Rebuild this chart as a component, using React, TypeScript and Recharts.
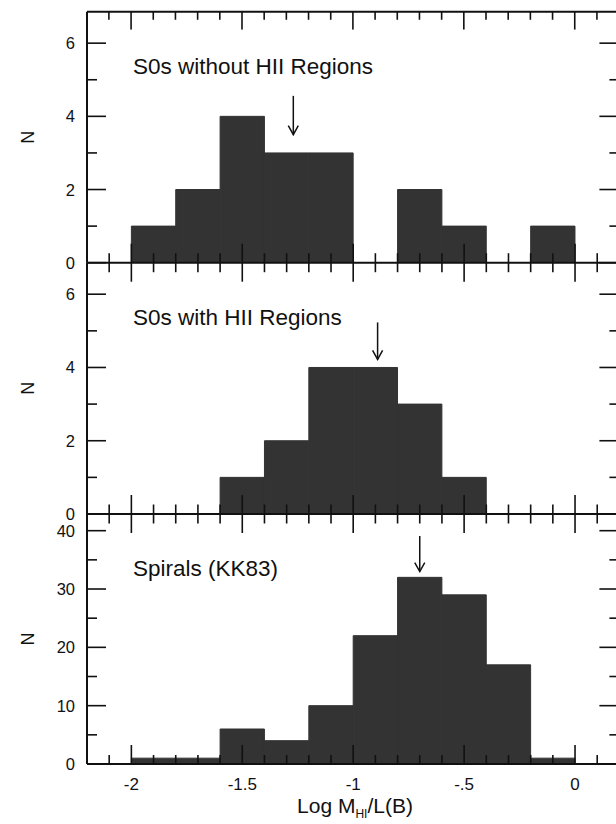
import React from 'react';
import { ComposedChart, Bar, XAxis, YAxis, ReferenceLine, Customized } from 'recharts';

// ---------- data ----------
const binCenters = [-2.1, -1.9, -1.7, -1.5, -1.3, -1.1, -0.9, -0.7, -0.5, -0.3, -0.1, 0.1];
const s0WithoutHII = [0, 1, 2, 4, 3, 3, 0, 2, 1, 0, 1, 0];
const s0WithHII = [0, 0, 0, 1, 2, 4, 4, 3, 1, 0, 0, 0];
const spiralsKK83 = [0, 1, 1, 6, 4, 10, 22, 32, 29, 17, 1, 0];

const xTicks = [-2.1, -2, -1.9, -1.8, -1.7, -1.6, -1.5, -1.4, -1.3, -1.2, -1.1, -1, -0.9, -0.8, -0.7, -0.6, -0.5, -0.4, -0.3, -0.2, -0.1, 0, 0.1];
const xTickLabels: Record<string, string> = { '-2': '-2', '-1.5': '-1.5', '-1': '-1', '-0.5': '-.5', '0': '0' };
const nTicksSmall = [0, 1, 2, 3, 4, 5, 6];
const nTicksLarge = [0, 5, 10, 15, 20, 25, 30, 35, 40];
const panelTitles = ['S0s without HII Regions', 'S0s with HII Regions', 'Spirals (KK83)'];
const meanArrowX = [-1.27, -0.89, -0.7];
const meanArrowFrom = [4.56, 5.23, 39.1];
const meanArrowTo = [3.5, 4.22, 33.0];

// ---------- style / layout ----------
const FONT = '"Liberation Sans", Arial, Helvetica, sans-serif';
const INK = '#111';
const BAR = '#333333';
const CHART_W = 640;
const PLOT_L = 87;
const PLOT_R_GAP = 20.6;
const AX = 1; // thickness reserved by each axis
const X_DOMAIN: [number, number] = [-2.2, 0.2];
const BIN_W = 0.2;
const N_X = 28;
const FRAME_TOP = 11.7;
const TOP_MAJOR_LEN = 18;
const TOP_MINOR_LEN = 8;

const isMultiple = (v: number, step: number) => {
  const r = v / step;
  return Math.abs(r - Math.round(r)) < 1e-6;
};

const makeBottomTick = (mode: 'cross' | 'labelled') => (props: any) => {
  const { x, y, payload } = props;
  const major = isMultiple(payload.value, 0.5);
  const key = String(Math.round(payload.value * 10) / 10);
  const label = xTickLabels[key];
  const yy = Number(y);
  const y1 = yy - (major ? 19 : mode === 'cross' ? 9.5 : 9);
  const y2 = mode === 'cross' ? yy + (major ? 19 : 9.5) : yy;
  return (
    <g>
      <line x1={x} x2={x} y1={y1} y2={y2} stroke={INK} strokeWidth={1.6} />
      {mode === 'labelled' && major && label !== undefined && (
        <text x={x} y={yy + 26} textAnchor="middle" fontSize={17} fill={INK} fontFamily={FONT}>
          {label}
        </text>
      )}
    </g>
  );
};

const makeLeftTick = (majorStep: number) => (props: any) => {
  const { x, y, payload } = props;
  const v = payload.value;
  const major = isMultiple(v, majorStep);
  return (
    <g>
      <line x1={x} x2={Number(x) + (major ? 19 : 10)} y1={y} y2={y} stroke={INK} strokeWidth={1.6} />
      {major && (
        <text x={Number(x) - 12} y={y} textAnchor="end" dominantBaseline="central" fontSize={16.5} fill={INK} fontFamily={FONT}>
          {v}
        </text>
      )}
    </g>
  );
};

const makeRightTick = (majorStep: number) => (props: any) => {
  const { x, y, payload } = props;
  const major = isMultiple(payload.value, majorStep);
  return <line x1={x} x2={Number(x) - (major ? 20 : 10)} y1={y} y2={y} stroke={INK} strokeWidth={1.6} />;
};

const ArrowShape = (props: any) => {
  const { x1, y1, x2, y2 } = props;
  return (
    <g>
      <line x1={x1} y1={y1} x2={x2} y2={y2} stroke={INK} strokeWidth={1.5} />
      <path d={`M${x2 - 5},${y2 - 9} L${x2},${y2} L${x2 + 5},${y2 - 9}`} fill="none" stroke={INK} strokeWidth={1.5} />
    </g>
  );
};

// thin strip chart: top frame line with the ticks hanging down (range bars)
function TopFrame() {
  const data = xTicks.map((x) => ({
    x,
    t: isMultiple(x, 0.5) ? [0, TOP_MAJOR_LEN] : [TOP_MAJOR_LEN - TOP_MINOR_LEN, TOP_MAJOR_LEN],
  }));
  const H = 40;
  return (
    <div style={{ position: 'absolute', left: 0, top: 0, width: CHART_W, height: H }}>
      <ComposedChart
        width={CHART_W}
        height={H}
        data={data}
        margin={{ top: FRAME_TOP, right: PLOT_R_GAP, bottom: H - FRAME_TOP - TOP_MAJOR_LEN, left: PLOT_L }}
      >
        <XAxis xAxisId="b" dataKey="x" type="number" domain={X_DOMAIN} allowDataOverflow hide />
        <YAxis yAxisId="l" type="number" domain={[0, TOP_MAJOR_LEN]} allowDataOverflow hide />
        <Bar xAxisId="b" yAxisId="l" dataKey="t" fill={INK} barSize={1.6} isAnimationActive={false} />
        <ReferenceLine xAxisId="b" yAxisId="l" y={TOP_MAJOR_LEN} stroke={INK} strokeWidth={2} ifOverflow="visible" />
      </ComposedChart>
    </div>
  );
}

type PanelProps = {
  idx: number;
  top: number;
  height: number;
  mTop: number;
  mBottom: number;
  counts: number[];
  yTicks: number[];
  yMax: number;
  yMajor: number;
  labelledBottom: boolean;
};

function Panel(p: PanelProps) {
  const data = binCenters.map((x, i) => ({ x, n: p.counts[i] }));
  const plotW = CHART_W - PLOT_L - PLOT_R_GAP;
  const plotH = p.height - p.mTop - p.mBottom;
  const binPx = (plotW * BIN_W) / (X_DOMAIN[1] - X_DOMAIN[0]);
  const axisLine = { stroke: INK, strokeWidth: 2 };
  return (
    <div style={{ position: 'absolute', left: 0, top: p.top, width: CHART_W, height: p.height }}>
      <ComposedChart
        width={CHART_W}
        height={p.height}
        data={data}
        barCategoryGap="0%"
        barGap={0}
        margin={{
          top: p.mTop,
          right: PLOT_R_GAP - AX,
          bottom: p.mBottom - AX,
          left: PLOT_L - AX,
        }}
      >
        <XAxis
          xAxisId="b"
          dataKey="x"
          type="number"
          domain={X_DOMAIN}
          allowDataOverflow
          ticks={xTicks}
          interval={0}
          height={AX}
          tickSize={0}
          tickMargin={0}
          tickLine={false}
          axisLine={axisLine}
          tick={makeBottomTick(p.labelledBottom ? 'labelled' : 'cross')}
        />
        <YAxis
          yAxisId="l"
          type="number"
          domain={[0, p.yMax]}
          allowDataOverflow
          ticks={p.yTicks}
          interval={0}
          width={AX}
          tickSize={0}
          tickMargin={0}
          tickLine={false}
          axisLine={axisLine}
          tick={makeLeftTick(p.yMajor)}
        />
        <YAxis
          yAxisId="r"
          orientation="right"
          type="number"
          domain={[0, p.yMax]}
          allowDataOverflow
          ticks={p.yTicks}
          interval={0}
          width={AX}
          tickSize={0}
          tickMargin={0}
          tickLine={false}
          axisLine={axisLine}
          tick={makeRightTick(p.yMajor)}
        />
        <Bar
          xAxisId="b"
          yAxisId="l"
          dataKey="n"
          fill={BAR}
          stroke={BAR}
          strokeWidth={1}
          barSize={binPx - 0.05}
          isAnimationActive={false}
        />
        <ReferenceLine
          xAxisId="b"
          yAxisId="l"
          segment={[
            { x: meanArrowX[p.idx], y: meanArrowFrom[p.idx] },
            { x: meanArrowX[p.idx], y: meanArrowTo[p.idx] },
          ]}
          shape={ArrowShape}
        />
        <Customized
          component={() => (
            <g>
              <text x={133} y={p.mTop + 62} fontSize={22.5} fill={INK} fontFamily={FONT}>
                {panelTitles[p.idx]}
              </text>
              <text
                x={N_X}
                y={p.mTop + plotH / 2}
                fontSize={18}
                fill={INK}
                fontFamily={FONT}
                textAnchor="middle"
                dominantBaseline="central"
                transform={`rotate(-90 ${N_X} ${p.mTop + plotH / 2})`}
              >
                N
              </text>
              {p.labelledBottom && (
                <text x={355} y={p.mTop + plotH + 49} fontSize={21} fill={INK} fontFamily={FONT} textAnchor="middle">
                  Log M
                  <tspan fontSize={12} dy={5} fill={INK}>HI</tspan>
                  <tspan dy={-5} fill={INK}>/L(B)</tspan>
                </text>
              )}
            </g>
          )}
        />
      </ComposedChart>
    </div>
  );
}

export default function App() {
  return (
    <div
      style={{
        position: 'fixed',
        left: 0,
        top: 0,
        width: 616,
        height: 824,
        overflow: 'hidden',
        background: '#fff',
        fontFamily: FONT,
      }}
    >
      <Panel idx={0} top={0} height={290} mTop={FRAME_TOP} mBottom={27.3} counts={s0WithoutHII} yTicks={nTicksSmall} yMax={6.86} yMajor={2} labelledBottom={false} />
      <Panel idx={1} top={240} height={300} mTop={22.7} mBottom={26} counts={s0WithHII} yTicks={nTicksSmall} yMax={6.86} yMajor={2} labelledBottom={false} />
      <Panel idx={2} top={490} height={334} mTop={24} mBottom={60} counts={spiralsKK83} yTicks={nTicksLarge} yMax={42.86} yMajor={10} labelledBottom />
      <TopFrame />
    </div>
  );
}
